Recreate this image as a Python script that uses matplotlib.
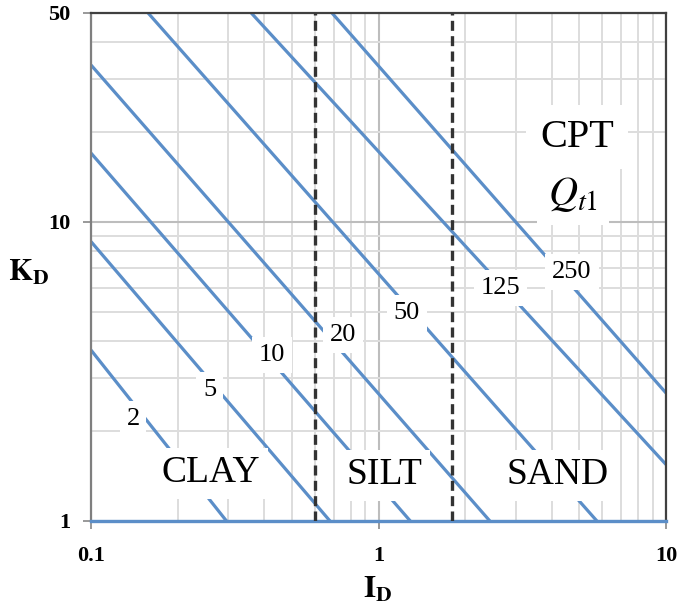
import matplotlib
matplotlib.use('Agg')
import matplotlib.pyplot as plt
from matplotlib.ticker import FixedLocator, NullFormatter
import numpy as np

plt.rcParams['font.family'] = ['Liberation Serif', 'DejaVu Serif']
plt.rcParams['mathtext.fontset'] = 'stix'

qt1_values = [2, 5, 10, 20, 50, 125, 250]
id_start = [0.1, 0.1, 0.1, 0.1, 0.158, 0.361, 0.689]
kd_start = [3.73, 8.6, 17.0, 33.5, 50, 50, 50]
id_end = [0.296, 0.678, 1.29, 2.44, 5.75, 10, 10]
kd_end = [1, 1, 1, 1, 1, 1.545, 2.68]

# where the Qt1 numbers sit
label_id = [0.140, 0.259, 0.427, 0.753, 1.256, 2.65, 4.71]
label_kd = [2.19, 2.74, 3.59, 4.19, 4.96, 6.01, 6.80]

# soil type boundaries and names
boundaries = [0.6, 1.8]
soil_names = ['CLAY', 'SILT', 'SAND']
soil_id = [0.261, 1.045, 4.21]
soil_kd = [1.447, 1.425, 1.425]

blue = '#5b8ec8'

fig = plt.figure(figsize=(6.79, 6.07), dpi=100)
ax = fig.add_axes([91/679, 1 - 521/607, 575/679, 508/607])
ax.set_xscale('log')
ax.set_yscale('log')
ax.set_xlim(0.1, 10)
ax.set_ylim(1, 50)

# grid
ax.xaxis.set_major_locator(FixedLocator([0.1, 1, 10]))
ax.yaxis.set_major_locator(FixedLocator([1, 10, 50]))
ax.xaxis.set_minor_locator(FixedLocator(list(np.arange(2, 10) * 0.1) + list(np.arange(2, 10))))
ax.yaxis.set_minor_locator(FixedLocator(list(np.arange(2, 10)) + [20, 30, 40]))
ax.xaxis.set_minor_formatter(NullFormatter())
ax.yaxis.set_minor_formatter(NullFormatter())
ax.set_xticklabels(['0.1', '1', '10'], fontsize=16, fontweight='bold')
ax.set_yticklabels(['1', '10', '50'], fontsize=16, fontweight='bold')
ax.grid(which='major', color='#bdbdbd', lw=1.5, zorder=0)
ax.grid(which='minor', color='#dddddd', lw=1.4, zorder=0)
ax.set_axisbelow(True)
ax.tick_params(which='major', length=6, color='#888888', width=1.2)
ax.tick_params(axis='x', which='major', pad=12)
ax.tick_params(axis='y', which='major', pad=9)
ax.tick_params(which='minor', length=0)

for side in ['top', 'right']:
    ax.spines[side].set_color('#404040')
    ax.spines[side].set_linewidth(1.6)
ax.spines['left'].set_color('#7f7f7f')
ax.spines['left'].set_linewidth(1.6)
ax.spines['bottom'].set_color(blue)
ax.spines['bottom'].set_linewidth(2.4)
ax.spines['bottom'].set_zorder(3)

for i in range(len(qt1_values)):
    ax.plot([id_start[i], id_end[i]], [kd_start[i], kd_end[i]], color=blue, lw=2.3,
            solid_capstyle='butt', zorder=2)
    ax.text(label_id[i], label_kd[i], str(qt1_values[i]), fontsize=19, ha='center', va='center',
            zorder=5, bbox=dict(facecolor='white', edgecolor='none', pad=5))

for b in boundaries:
    ax.axvline(b, color='#333333', lw=2.4, linestyle=(0, (3, 1.6)), zorder=6)

for name, x, y in zip(soil_names, soil_id, soil_kd):
    ax.text(x, y, name, fontsize=27, ha='center', va='center', zorder=5,
            bbox=dict(facecolor='white', edgecolor='none', pad=6))

ax.text(4.90, 19.2, 'CPT', fontsize=29, ha='center', va='center', zorder=5,
        bbox=dict(facecolor='white', edgecolor='none', pad=10))
ax.text(4.75, 12.4, r'$\mathit{Q_{t1}}$', fontsize=29, ha='center', va='center', zorder=5,
        bbox=dict(facecolor='white', edgecolor='none', pad=8))

fig.text(29/679, 1 - 273/607, r'$\mathbf{K}_{\mathbf{D}}$', fontsize=22, ha='center', va='center')
fig.text(378/679, 1 - 590/607, r'$\mathbf{I}_{\mathbf{D}}$', fontsize=22, ha='center', va='center')

fig.savefig('out.png', dpi=100)
